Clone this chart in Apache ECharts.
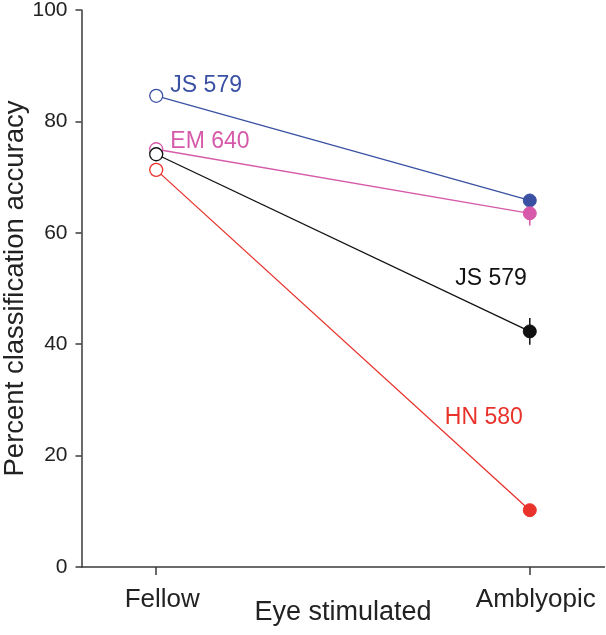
<!DOCTYPE html>
<html>
<head>
<meta charset="utf-8">
<script src="https://cdn.jsdelivr.net/npm/echarts@6/dist/echarts.min.js"></script>
<style>
html,body{margin:0;padding:0;background:#fff;}
#chart{width:606px;height:635px;}
</style>
</head>
<body>
<div id="chart"></div>
<script>
// ---- data ----
var categories = ['Fellow', 'Amblyopic'];
var subjects = ['JS 579', 'EM 640', 'JS 579', 'HN 580'];
var colors = ['#3a51a3', '#d65aa9', '#111111', '#e8322b'];
var fellowValues = [84.6, 75.0, 74.1, 71.3];
var amblyopicValues = [65.8, 63.5, 42.3, 10.2];
var amblyopicErrors = [1.0, 2.2, 2.4, 0.6];
var yTicks = [0, 20, 40, 60, 80, 100];

// label placement: which point each label sits next to, and offsets
var labelAt = [0, 0, 1, 1];
var labelOffsets = [[2, -10], [2, -8], [9, -53], [5, -93]];

var FONT = '"Liberation Sans", Arial, Helvetica, sans-serif';

var series = [];
subjects.forEach(function (name, i) {
  var c = colors[i];
  var pts = [
    { value: [0, fellowValues[i]], itemStyle: { color: '#ffffff', borderColor: c, borderWidth: 1.3 } },
    { value: [1, amblyopicValues[i]], itemStyle: { color: c, borderColor: c, borderWidth: 1 } }
  ];
  var li = labelAt[i];
  pts[li].label = {
    show: true,
    formatter: name,
    position: li === 0 ? 'right' : 'left',
    distance: 5,
    offset: labelOffsets[i],
    color: c,
    fontSize: 23,
    fontFamily: FONT
  };
  series.push({
    type: 'line',
    name: name + '-' + i,
    data: pts,
    symbol: 'circle',
    symbolSize: 13,
    lineStyle: { color: c, width: 1.3 },
    z: 3 + i,
    animation: false
  });
});

// error bars
series.push({
  type: 'custom',
  z: 2,
  animation: false,
  data: amblyopicValues.map(function (v, i) { return [1, v - amblyopicErrors[i], v + amblyopicErrors[i], i]; }),
  renderItem: function (params, api) {
    var lo = api.coord([api.value(0), api.value(1)]);
    var hi = api.coord([api.value(0), api.value(2)]);
    return {
      type: 'line',
      shape: { x1: lo[0], y1: lo[1], x2: hi[0], y2: hi[1] },
      style: { stroke: colors[api.value(3)], lineWidth: 1.5 }
    };
  }
});

var chart = echarts.init(document.getElementById('chart'), null, { renderer: 'canvas' });
chart.setOption({
  backgroundColor: '#ffffff',
  animation: false,
  grid: { left: 81.5, right: 1.5, top: 10, bottom: 68, containLabel: false, outerBoundsMode: 'none' },
  xAxis: {
    type: 'value',
    min: -0.2,
    max: 1.2,
    name: 'Eye stimulated',
    nameLocation: 'middle',
    nameGap: 32,
    nameMoveOverlap: false,
    nameTextStyle: { fontSize: 27, color: '#222', fontFamily: FONT },
    splitLine: { show: false },
    axisLine: { show: true, onZero: false, lineStyle: { color: '#3a3a3a', width: 1.5 } },
    axisTick: { show: true, length: 8, customValues: [0, 1], lineStyle: { color: '#3a3a3a', width: 1.5 } },
    axisLabel: {
      customValues: [0, 1],
      margin: 20,
      fontSize: 26,
      color: '#222',
      fontFamily: FONT,
      padding: [0, 0, 0, 12],
      formatter: function (v) { return categories[Math.round(v)]; }
    }
  },
  yAxis: {
    type: 'value',
    min: 0,
    max: 100,
    interval: 20,
    name: 'Percent classification accuracy',
    nameLocation: 'middle',
    nameGap: 52,
    nameMoveOverlap: false,
    nameTextStyle: { fontSize: 27.5, color: '#222', fontFamily: FONT },
    splitLine: { show: false },
    axisLine: { show: true, onZero: false, lineStyle: { color: '#3a3a3a', width: 1.5 } },
    axisTick: { show: true, length: 6, lineStyle: { color: '#3a3a3a', width: 1.5 } },
    axisLabel: {
      margin: 14,
      fontSize: 21,
      color: '#222',
      fontFamily: FONT,
      formatter: function (v) { return yTicks.indexOf(v) >= 0 ? String(v) : ''; }
    }
  },
  series: series
});
</script>
</body>
</html>
